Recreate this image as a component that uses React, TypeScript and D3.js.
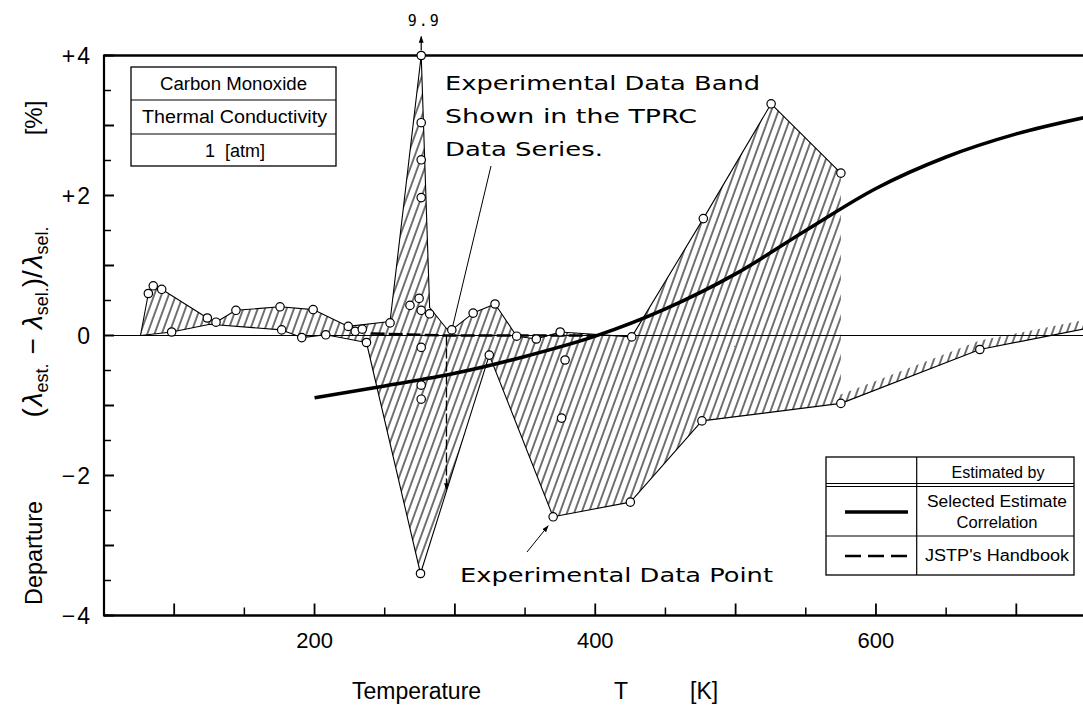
import React from 'react';
import * as d3 from 'd3';

// ---------- data ----------
const xMajorTicks = [100, 200, 300, 400, 500, 600, 700];
const xMinorTicks = [150, 250, 350, 450, 550, 650];
const xTickLabels = [200, 400, 600];
const yMajorTicks = [-4, -3, -2, -1, 0, 1, 2, 3, 4];
const yMinorTicks = [-3.5, -2.5, -1.5, -0.5, 0.5, 1.5, 2.5, 3.5];
const yTickValues = [4, 2, 0, -2, -4];
const yTickTexts = ['+4', '+2', '0', '−2', '−4'];

// experimental data band (TPRC) – upper and lower envelopes
const bandUpperT = [76, 81.6, 85.1, 91.1, 123.6, 129.8, 144, 175.4, 199, 224, 253.8, 276, 282, 294, 297.8, 313, 328.6, 344, 358, 375, 426, 477, 525.3, 575];
const bandUpperV = [0, 0.6, 0.71, 0.66, 0.25, 0.19, 0.36, 0.41, 0.37, 0.13, 0.2, 4.0, 0.4, 0.1, 0.08, 0.32, 0.45, -0.01, -0.05, 0.05, -0.02, 1.67, 3.31, 2.32];
const bandLowerT = [76, 98.2, 125.5, 176.6, 190.9, 208, 237, 275.5, 324.5, 370, 425, 476, 575];
const bandLowerV = [0, 0.05, 0.16, 0.08, -0.03, 0.01, -0.1, -3.4, -0.28, -2.59, -2.38, -1.22, -0.97];
// one-sided band edge at high temperature
const tailT = [575, 674, 750];
const tailV = [-0.97, -0.2, 0.1];

// experimental data points
const pointT = [81.6, 85.1, 91.1, 98.2, 123.6, 129.8, 144, 175.4, 176.6, 190.9, 199, 208, 224, 229, 234, 237, 253.8, 268, 274.5, 276, 282, 276, 276, 276, 276, 276, 276, 276, 275.5, 297.8, 313, 328.6, 344, 358, 375, 324.5, 378.5, 376, 370, 425, 426, 476, 477, 525.3, 575, 575, 674];
const pointV = [0.6, 0.71, 0.66, 0.05, 0.25, 0.19, 0.36, 0.41, 0.08, -0.03, 0.37, 0.01, 0.13, 0.06, 0.09, -0.1, 0.18, 0.43, 0.53, 0.36, 0.31, -0.17, -0.71, -0.91, 1.97, 2.51, 3.04, 4.0, -3.4, 0.08, 0.32, 0.45, -0.01, -0.05, 0.05, -0.28, -0.35, -1.18, -2.59, -2.38, -0.02, -1.22, 1.67, 3.31, 2.32, -0.97, -0.2];

// selected estimate correlation
const corrT = [200, 250, 300, 350, 400, 450, 500, 550, 600, 650, 700, 750];
const corrV = [-0.89, -0.72, -0.54, -0.3, -0.01, 0.38, 0.88, 1.5, 2.1, 2.55, 2.88, 3.12];

// JSTP's handbook
const jstpT = [240, 294, 400];
const jstpV = [0.03, 0.0, 0.0];
const jstpArrowT = 294;
const jstpArrowV = [0, -2.2];

const offScaleLabel = '9.9';
const boxLines = ['Carbon Monoxide', 'Thermal Conductivity', '1  [atm]'];

// ---------- component ----------
export default function App() {
  const W = 1083, H = 717;
  const x = d3.scaleLinear().domain([50, 750]).range([104, 1086.5]);
  const y = d3.scaleLinear().domain([-4, 4]).range([615.5, 55.5]);
  const sans = "'Liberation Sans', Arial, sans-serif";
  const geo = "'DejaVu Sans', 'Liberation Sans', sans-serif";

  const line = d3.line<[number, number]>().x(d => x(d[0])).y(d => y(d[1]));
  const upper = bandUpperT.map((t, i) => [t, bandUpperV[i]] as [number, number]);
  const lower = bandLowerT.map((t, i) => [t, bandLowerV[i]] as [number, number]);
  const bandPath = line([...upper, ...lower.slice().reverse()]) + 'Z';

  const tailPts = tailT.map((t, i) => [x(t), y(tailV[i])] as [number, number]);
  const tailPoly = [...tailPts, ...tailPts.slice().reverse().map(p => [p[0], p[1] - 9] as [number, number])];
  const tailFill = d3.line()(tailPoly) + 'Z';
  const tailEdge = d3.line()(tailPts);

  const corrPath = d3.line<number>().x((_, i) => x(corrT[i])).y(d => y(d)).curve(d3.curveMonotoneX)(corrV);
  const jstpPath = d3.line<number>().x((_, i) => x(jstpT[i])).y(d => y(d))(jstpV);

  // annotation anchors (derived from data points)
  const bandAnchor = [x(297.8), y(0.08)];
  const ptAnchor = [x(370), y(-2.59)];
  const topPt = [x(276), y(4)];

  return (
    <svg width={W} height={H} style={{ position: 'absolute', left: 0, top: 0, background: '#fff' }}>
      <defs>
        <pattern id="hatch" patternUnits="userSpaceOnUse" width="6.8" height="10" patternTransform="rotate(20)">
          <line x1="1" y1="-2" x2="1" y2="12" stroke="#000" strokeWidth="1.1" />
        </pattern>
        <marker id="arr" viewBox="0 0 10 10" refX="9" refY="5" markerWidth="7" markerHeight="9" orient="auto" markerUnits="userSpaceOnUse">
          <path d="M0,1.5 L10,5 L0,8.5 Z" fill="#000" />
        </marker>
      </defs>

      {/* band */}
      <path d={bandPath} fill="url(#hatch)" stroke="none" />
      <path d={line(upper) || ''} fill="none" stroke="#000" strokeWidth={1.1} strokeLinejoin="round" />
      <path d={line(lower) || ''} fill="none" stroke="#000" strokeWidth={1.1} strokeLinejoin="round" />
      <path d={tailFill} fill="url(#hatch)" stroke="none" />
      <path d={tailEdge} fill="none" stroke="#000" strokeWidth={1.2} />

      {/* zero line */}
      <line x1={x(50)} x2={W} y1={y(0)} y2={y(0)} stroke="#000" strokeWidth={1.2} />

      {/* frame */}
      <line x1={x(50)} x2={W} y1={y(4)} y2={y(4)} stroke="#000" strokeWidth={2.5} />
      <line x1={x(50)} x2={W} y1={y(-4)} y2={y(-4)} stroke="#000" strokeWidth={2.5} />
      <line x1={x(50)} x2={x(50)} y1={y(4) - 1} y2={y(-4) + 1} stroke="#000" strokeWidth={2.2} />

      {/* ticks */}
      {yMajorTicks.map(v => <line key={'ym' + v} x1={x(50)} x2={x(50) + 10} y1={y(v)} y2={y(v)} stroke="#000" strokeWidth={2} />)}
      {yMinorTicks.map(v => <line key={'yn' + v} x1={x(50)} x2={x(50) + 7} y1={y(v)} y2={y(v)} stroke="#000" strokeWidth={1.5} />)}
      {xMajorTicks.map(t => <line key={'xm' + t} x1={x(t)} x2={x(t)} y1={y(-4)} y2={y(-4) - 12} stroke="#000" strokeWidth={1.8} />)}
      {xMinorTicks.map(t => <line key={'xn' + t} x1={x(t)} x2={x(t)} y1={y(-4)} y2={y(-4) - 8} stroke="#000" strokeWidth={1.5} />)}

      {/* tick labels */}
      {yTickValues.map((v, i) => (
        <text key={'yl' + v} x={92} y={y(v) + 8} textAnchor="end" fontFamily={sans} fontSize={23} letterSpacing={2}>{yTickTexts[i]}</text>
      ))}
      {xTickLabels.map(t => (
        <text key={'xl' + t} x={x(t)} y={648} textAnchor="middle" fontFamily={sans} fontSize={22}>{t}</text>
      ))}

      {/* axis titles */}
      <text x={352} y={699} fontFamily={sans} fontSize={23}>Temperature</text>
      <text x={614} y={699} fontFamily={sans} fontSize={23}>T</text>
      <text x={690} y={699} fontFamily={sans} fontSize={23}>[K]</text>

      <text transform="translate(42,553) rotate(-90)" textAnchor="middle" fontFamily={sans} fontSize={24} textLength={104} lengthAdjust="spacingAndGlyphs">Departure</text>
      <text transform="translate(42,322) rotate(-90)" textAnchor="middle" fontFamily={sans} fontSize={28}>
        (<tspan fontStyle="italic" dx={2}>λ</tspan><tspan fontSize={18} dy={6}>est.</tspan><tspan dy={-6} dx={9}>−</tspan>
        <tspan fontStyle="italic" dx={9}>λ</tspan><tspan fontSize={18} dy={6}>sel.</tspan><tspan dy={-6}>)/</tspan>
        <tspan fontStyle="italic" dx={2}>λ</tspan><tspan fontSize={18} dy={6}>sel.</tspan>
      </text>
      <text transform="translate(42,118) rotate(-90)" textAnchor="middle" fontFamily={sans} fontSize={24}>[%]</text>

      {/* correlation & JSTP */}
      <path d={corrPath || ''} fill="none" stroke="#000" strokeWidth={3.5} />
      <path d={jstpPath || ''} fill="none" stroke="#000" strokeWidth={2.5} strokeDasharray="14 4" />
      <line x1={x(jstpArrowT)} x2={x(jstpArrowT)} y1={y(jstpArrowV[0])} y2={y(jstpArrowV[1])} stroke="#000" strokeWidth={1.3} strokeDasharray="10 3" markerEnd="url(#arr)" />

      {/* points */}
      {pointT.map((t, i) => (
        <circle key={'p' + i} cx={x(t)} cy={y(pointV[i])} r={4.2} fill="#fff" stroke="#000" strokeWidth={1.2} />
      ))}

      {/* off-scale marker */}
      <line x1={topPt[0]} x2={topPt[0]} y1={topPt[1] - 5} y2={topPt[1] - 19} stroke="#000" strokeWidth={1.2} markerEnd="url(#arr)" />
      <text x={topPt[0] + 3} y={26} textAnchor="middle" fontFamily="'DejaVu Sans Mono', monospace" fontSize={15} letterSpacing={2}>{offScaleLabel}</text>

      {/* annotations */}
      <text x={445} y={90} fontFamily={geo} fontSize={20} textLength={315} lengthAdjust="spacingAndGlyphs">Experimental Data Band</text>
      <text x={445} y={123} fontFamily={geo} fontSize={20} textLength={252} lengthAdjust="spacingAndGlyphs">Shown in the TPRC</text>
      <text x={445} y={156} fontFamily={geo} fontSize={20} textLength={158} lengthAdjust="spacingAndGlyphs">Data Series.</text>
      <line x1={491} y1={166} x2={bandAnchor[0] + 1} y2={bandAnchor[1] - 4} stroke="#000" strokeWidth={1} />

      <text x={460} y={582} fontFamily={geo} fontSize={20} textLength={313} lengthAdjust="spacingAndGlyphs">Experimental Data Point</text>
      <line x1={527} y1={552} x2={ptAnchor[0] - 5} y2={ptAnchor[1] + 9} stroke="#000" strokeWidth={1} markerEnd="url(#arr)" />

      {/* title box */}
      <g fontFamily={sans} fontSize={18}>
        <rect x={131} y={67} width={205} height={99} fill="#fff" stroke="#000" strokeWidth={1.3} />
        <line x1={131} x2={336} y1={100} y2={100} stroke="#000" strokeWidth={1.2} />
        <line x1={131} x2={336} y1={134} y2={134} stroke="#000" strokeWidth={1.2} />
        <text x={233.5} y={90} textAnchor="middle" textLength={147} lengthAdjust="spacingAndGlyphs">{boxLines[0]}</text>
        <text x={234.5} y={123} textAnchor="middle" textLength={185} lengthAdjust="spacingAndGlyphs">{boxLines[1]}</text>
        <text x={235} y={157} textAnchor="middle" xmlSpace="preserve">{boxLines[2]}</text>
      </g>

      {/* legend */}
      <g fontFamily={sans} fontSize={16}>
        <rect x={826} y={457} width={248} height={118} fill="#fff" stroke="#000" strokeWidth={1.3} />
        <line x1={916.7} x2={916.7} y1={457} y2={575} stroke="#000" strokeWidth={1.2} />
        <line x1={826} x2={1074} y1={483.5} y2={483.5} stroke="#000" strokeWidth={1.2} />
        <line x1={826} x2={1074} y1={486.5} y2={486.5} stroke="#000" strokeWidth={1.2} />
        <line x1={826} x2={1074} y1={536} y2={536} stroke="#000" strokeWidth={1.2} />
        <text x={998} y={478} textAnchor="middle" textLength={93} lengthAdjust="spacingAndGlyphs">Estimated by</text>
        <text x={997} y={507} textAnchor="middle" textLength={140} lengthAdjust="spacingAndGlyphs">Selected Estimate</text>
        <text x={997} y={528} textAnchor="middle" textLength={81} lengthAdjust="spacingAndGlyphs">Correlation</text>
        <text x={997} y={561} textAnchor="middle" textLength={144} lengthAdjust="spacingAndGlyphs">JSTP's Handbook</text>
        <line x1={845} x2={908} y1={512} y2={512} stroke="#000" strokeWidth={3.5} />
        <line x1={845} x2={908} y1={556} y2={556} stroke="#000" strokeWidth={2.5} strokeDasharray="16 7" />
      </g>
    </svg>
  );
}
